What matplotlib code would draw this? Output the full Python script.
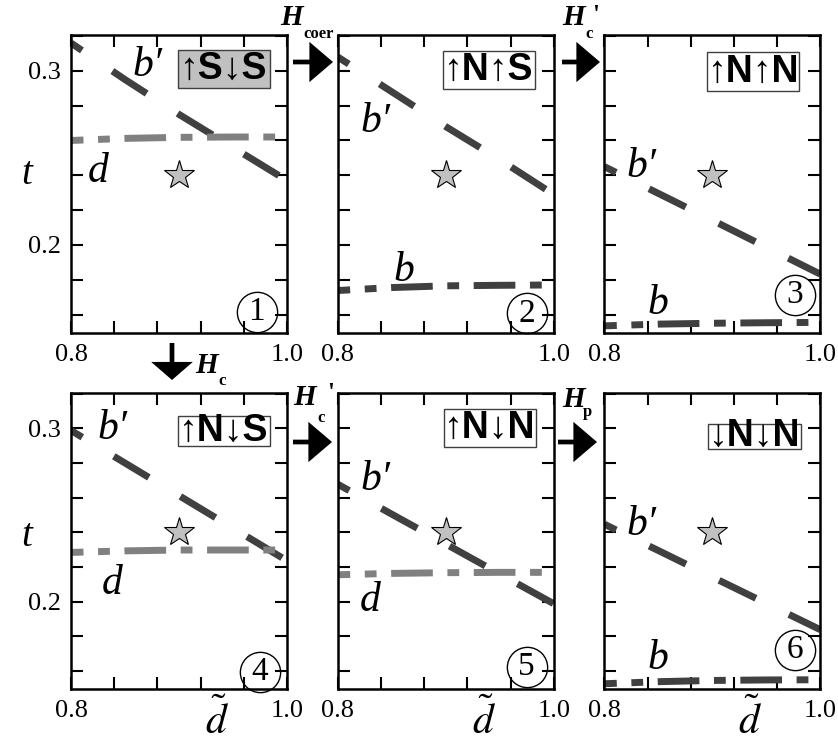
import matplotlib
matplotlib.use("Agg")
import matplotlib.pyplot as plt
from matplotlib.patches import FancyArrowPatch, Rectangle
from matplotlib.ticker import MultipleLocator, FuncFormatter

plt.rcParams['font.family'] = ['Liberation Serif', 'DejaVu Serif']
plt.rcParams['mathtext.fontset'] = 'stix'

# d-tilde grid
d_tilde = [0.80, 0.85, 0.90, 0.95, 1.00]

# t along the b' boundary, one list per panel
bp1 = [0.316, 0.295, 0.275, 0.256, 0.237]
bp2 = [0.308, 0.288, 0.268, 0.249, 0.229]
bp3 = [0.245, 0.2296, 0.2142, 0.1987, 0.1832]
bp4 = [0.2988, 0.2800, 0.2612, 0.2424, 0.2236]
bp5 = [0.2678, 0.2505, 0.2333, 0.2160, 0.1988]
bp6 = [0.2447, 0.2295, 0.2142, 0.1990, 0.1838]

# second boundary (d or b) per panel
low1 = [0.2600, 0.2612, 0.2618, 0.2620, 0.2620]
low2 = [0.1738, 0.1755, 0.1765, 0.1768, 0.1770]
low3 = [0.1535, 0.1545, 0.1550, 0.1553, 0.1555]
low4 = [0.2284, 0.2293, 0.2298, 0.2298, 0.2298]
low5 = [0.2155, 0.2163, 0.2167, 0.2169, 0.2169]
low6 = [0.1526, 0.1538, 0.1545, 0.1548, 0.1549]
low_names = ['d', 'b', 'b', 'd', 'd', 'b']

star_x, star_t = 0.90, 0.24
states = ['↑S↓S', '↑N↑S', '↑N↑N', '↑N↓S', '↑N↓N', '↓N↓N']

bps = [bp1, bp2, bp3, bp4, bp5, bp6]
lows = [low1, low2, low3, low4, low5, low6]

# label placement (data coords)
bp_lab = [(0.871, 0.303), (0.8345, 0.271), (0.834, 0.245),
          (0.838, 0.300), (0.8345, 0.2706), (0.834, 0.2443)]
low_lab = [(0.825, 0.242), (0.861, 0.1853), (0.850, 0.166),
           (0.838, 0.2106), (0.8305, 0.2006), (0.850, 0.167)]
# state boxes (axes fraction x0, y0, x1, y1)
boxes = [(0.494, 0.821, 0.921, 0.950), (0.486, 0.818, 0.913, 0.947),
         (0.477, 0.813, 0.903, 0.942), (0.494, 0.819, 0.921, 0.922),
         (0.492, 0.818, 0.918, 0.946), (0.481, 0.811, 0.909, 0.896)]
box_fc = ['#c0c0c0', 'white', 'white', 'white', 'white', 'white']
circ = [(0.86, 0.072), (0.875, 0.066), (0.883, 0.128),
        (0.875, 0.059), (0.875, 0.076), (0.883, 0.1325)]

W, H = 838, 747
fig = plt.figure(figsize=(W / 100, H / 100), dpi=100)

lefts = [71, 337.7, 604.3]
rows = [(35, 333), (392.7, 689.3)]

DARK = '#404040'
LIGHT = '#808080'


def ylab(v, pos):
    if abs(v - 0.2) < 1e-6 or abs(v - 0.3) < 1e-6:
        return '%.1f' % v
    return ''


def xlab(v, pos):
    if abs(v - 0.8) < 1e-6 or abs(v - 1.0) < 1e-6:
        return '%.1f' % v
    return ''


for i in range(6):
    r, c = divmod(i, 3)
    top, bot = rows[r]
    ax = fig.add_axes([lefts[c] / W, 1 - bot / H, 216 / W, (bot - top) / H])
    ax.set_xlim(0.8, 1.0)
    ax.set_ylim(0.1494, 0.3206)

    ax.plot(d_tilde, bps[i], color=DARK, lw=5,
            ls=(4, (5.9, 5.3)), dash_capstyle='butt')
    col = LIGHT if low_names[i] == 'd' else DARK
    ax.plot(d_tilde, lows[i], color=col, lw=5,
            ls=(4.2, (6, 2.1, 1.7, 2.1)), dash_capstyle='butt')
    ax.plot(star_x, star_t, marker='*', ms=22, mfc='#c0c0c0', mec='k',
            mew=0.8, zorder=5)

    ax.text(*bp_lab[i], 'b′', fontsize=30, style='italic',
            ha='center', va='center')
    ax.text(*low_lab[i], low_names[i], fontsize=30, style='italic',
            ha='center', va='center')

    x0, y0, x1, y1 = boxes[i]
    ax.add_patch(Rectangle((x0, y0), x1 - x0, y1 - y0, transform=ax.transAxes,
                           fc=box_fc[i], ec=DARK, lw=1, zorder=6))
    ax.text((x0 + x1) / 2, (y0 + y1) / 2, states[i], transform=ax.transAxes,
            fontsize=27, fontweight='bold', family=['Liberation Sans', 'DejaVu Sans'],
            ha='center', va='center', zorder=7)

    cx, cy = circ[i]
    ax.plot(cx, cy, 'o', ms=29, mfc='none', mec='k', mew=1,
            transform=ax.transAxes, clip_on=False, zorder=6)
    ax.text(cx, cy, str(i + 1), transform=ax.transAxes, fontsize=24,
            ha='center', va='center', zorder=7)

    ax.xaxis.set_major_locator(MultipleLocator(0.04))
    ax.yaxis.set_major_locator(MultipleLocator(0.02))
    ax.xaxis.set_major_formatter(FuncFormatter(xlab))
    ax.yaxis.set_major_formatter(FuncFormatter(ylab))
    ax.tick_params(direction='in', length=8.5, width=1.5, top=True,
                   right=True, labelsize=19)
    ax.tick_params(axis='x', pad=8)
    ax.tick_params(axis='y', pad=7, labelleft=(c == 0))
    for s in ax.spines.values():
        s.set_linewidth(1.8)

    if r == 1:
        fig.text((lefts[c] + 146) / W, 1 - 721 / H, r'$\tilde{d}$',
                 fontsize=30, ha='center', va='center')

for yc in (174, 536):
    fig.text(27 / W, 1 - yc / H, 't', fontsize=28, style='italic',
             ha='center', va='center')


def arrow(p0, p1, hl, hw):
    a = FancyArrowPatch(posA=(p0[0] / W, 1 - p0[1] / H),
                        posB=(p1[0] / W, 1 - p1[1] / H),
                        transform=fig.transFigure,
                        arrowstyle='simple,head_length=%g,head_width=%g,tail_width=3.4' % (hl, hw),
                        mutation_scale=1, shrinkA=0, shrinkB=0,
                        fc='k', ec='none', lw=0)
    fig.add_artist(a)


def ftext(x, y, s, size, **kw):
    fig.text(x / W, 1 - y / H, s, fontsize=size, fontweight='bold',
             ha='left', va='baseline', **kw)


arrow((293, 62), (333, 62), 17, 29)
arrow((562, 62), (600, 62), 17, 29)
arrow((293, 442), (332, 442), 17, 29)
arrow((558, 442), (597, 442), 17, 29)
arrow((172, 343), (172, 380), 13, 30)

ftext(280, 25, 'H', 21, style='italic')
ftext(303, 38, 'coer', 12)
ftext(562, 25, 'H', 21, style='italic')
ftext(585, 38, 'c', 12)
ftext(592, 22, "'", 18)
ftext(293, 405, 'H', 21, style='italic')
ftext(317, 422, 'c', 12)
ftext(327, 400, "'", 18)
ftext(562, 407, 'H', 21, style='italic')
ftext(583, 416, 'p', 12)
ftext(195, 373, 'H', 21, style='italic')
ftext(218, 385, 'c', 12)

fig.savefig('out.png', dpi=100)
